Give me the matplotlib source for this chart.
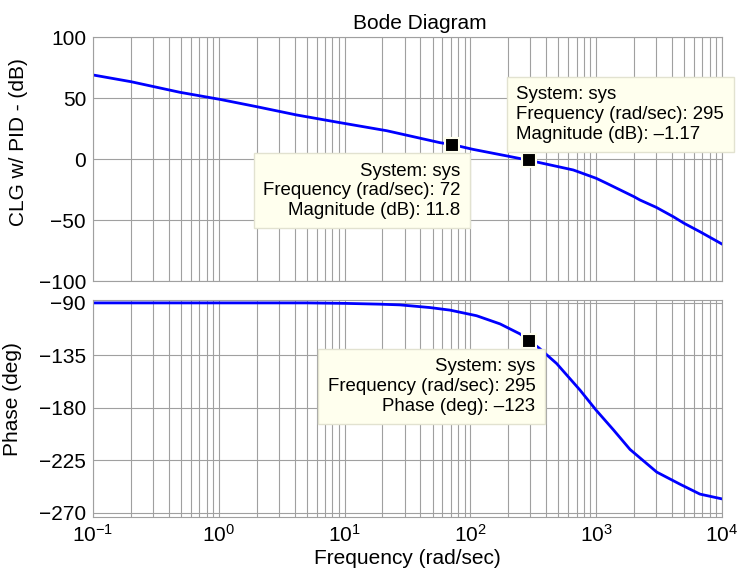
import matplotlib
matplotlib.use('Agg')
import matplotlib.pyplot as plt

#-------------------------------------------------------------------------------
# CONFIG

plt.rcParams['font.family'] = ['Liberation Sans', 'DejaVu Sans']
plt.rcParams['mathtext.fontset'] = 'custom'
plt.rcParams['mathtext.rm'] = 'Liberation Sans'
plt.rcParams['mathtext.it'] = 'Liberation Sans:italic'

#-------------------------------------------------------------------------------
# INPUT

#magnitude samples: frequency (rad/sec), closed loop magnitude (dB)
freq_mag = [0.1, 0.2, 0.49, 1.02, 2.0, 4.16, 9.2, 21.6, 57.3, 72, 105, 200,
            295, 500, 658, 1000, 1211, 2000, 2228, 3000, 4103, 5000, 6683, 10000]
mag = [68.9, 63.4, 54.7, 48.9, 42.9, 36.1, 29.8, 23.2, 13.4, 11.8, 7.9, 2.3,
       -1.17, -6.3, -9.0, -15.8, -19.9, -30.9, -33.6, -39.6, -47.3, -52.7,
       -59.6, -69.7]

#phase samples: frequency (rad/sec), phase (deg)
freq_ph = [0.1, 1, 5, 10, 19.1, 27.5, 47.7, 68.9, 112, 172, 248, 295, 357,
           485, 743, 1000, 1368, 1857, 3028, 4637, 6683, 10000]
phase = [-90, -90, -90, -90.4, -91.1, -91.7, -94, -96.2, -101, -108, -116.6,
         -122.5, -129.3, -142, -164.7, -182, -198.7, -215.6, -235, -245.4,
         -253.9, -258]

#data tips
tip_mag = [(72, 11.8), (295, -1.17)]
tip_phase = [(295, -123)]

mag_ticks = [-100, -50, 0, 50, 100]
phase_ticks = [-270, -225, -180, -135, -90]

blue = '#0000ff'
gridc = '#a0a0a0'
tipfc = '#ffffee'
tipec = '#e2e2d0'

#-------------------------------------------------------------------------------
# MAIN

fig = plt.figure(figsize=(7.46, 5.75), dpi=100)
ax1 = fig.add_axes([0.1247, 0.5113, 0.8431, 0.4243])
ax2 = fig.add_axes([0.1247, 0.1009, 0.8431, 0.3774])

ax1.semilogx(freq_mag, mag, color=blue, lw=2)
ax2.semilogx(freq_ph, phase, color=blue, lw=2)

for ax in (ax1, ax2):
    ax.set_xlim(0.1, 1e4)
    ax.grid(True, which='major', color=gridc, lw=0.8)
    ax.grid(True, which='minor', axis='x', color=gridc, lw=0.8)
    ax.tick_params(which='both', length=0, labelsize=15, pad=5)
    for s in ax.spines.values():
        s.set_color(gridc)
    ax.set_axisbelow(True)

ax1.set_ylim(-100, 100)
ax1.set_yticks(mag_ticks)
ax1.tick_params(axis='x', which='both', labelbottom=False)
ax2.set_ylim(-273.5, -87.5)
ax2.set_yticks(phase_ticks)

ax1.set_title('Bode Diagram', fontsize=15, x=0.52, pad=6)
ax1.set_ylabel('CLG w/ PID - (dB)', fontsize=15)
ax1.yaxis.set_label_coords(-0.103, 0.568)
ax2.set_ylabel('Phase (deg)', fontsize=15)
ax2.yaxis.set_label_coords(-0.113, 0.544)
ax2.set_xlabel('Frequency (rad/sec)', fontsize=15, labelpad=2)

#markers
for f, m in tip_mag:
    ax1.plot(f, m, 's', ms=9.5, mfc='black', mec=tipfc, mew=1.5, zorder=5)
for f, p in tip_phase:
    ax2.plot(f, p, 's', ms=9.5, mfc='black', mec=tipfc, mew=1.5, zorder=5)

box = dict(boxstyle='square,pad=0.5', fc=tipfc, ec=tipec, lw=1)
tipkw = dict(textcoords='offset pixels', fontsize=13.4, linespacing=1.2,
             va='top', bbox=box, zorder=6)

f, m = tip_mag[0]
ax1.annotate('System: sys\nFrequency (rad/sec): %g\nMagnitude (dB): %g' % (f, m),
             xy=(f, m), xytext=(8, -18), ha='right', multialignment='right', **tipkw)
f, m = tip_mag[1]
ax1.annotate('System: sys\nFrequency (rad/sec): %g\nMagnitude (dB): \u2013%g' % (f, -m),
             xy=(f, m), xytext=(-13, 74), ha='left', multialignment='left', **tipkw)
f, p = tip_phase[0]
ax2.annotate('System: sys\nFrequency (rad/sec): %g\nPhase (deg): \u2013%g' % (f, -p),
             xy=(f, p), xytext=(6, -17), ha='right', multialignment='right', **tipkw)

fig.savefig('out.png', dpi=100)
